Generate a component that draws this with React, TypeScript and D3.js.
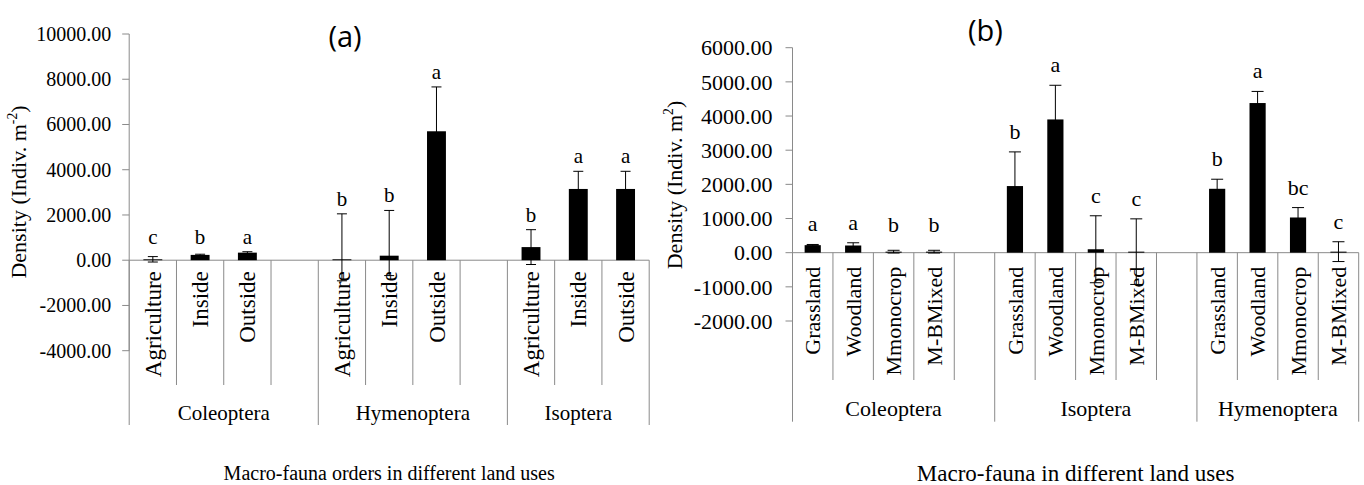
import React from "react";
import * as d3 from "d3";

// ---------- Panel (a) data ----------
const groupsA = ["Coleoptera", "Hymenoptera", "Isoptera"];
const landUsesA = ["Agriculture", "Inside", "Outside"];
const meansA = [
  [40, 235, 335],
  [40, 200, 5700],
  [580, 3150, 3150],
];
const errUpA = [
  [120, 30, 40],
  [2010, 2000, 1960],
  [770, 780, 780],
];
const errDownA = [
  [120, 30, 40],
  [950, 880, 1960],
  [770, 780, 780],
];
const lettersA = [
  ["c", "b", "a"],
  ["b", "b", "a"],
  ["b", "a", "a"],
];
const ticksA = [-4000, -2000, 0, 2000, 4000, 6000, 8000, 10000];

// ---------- Panel (b) data ----------
const groupsB = ["Coleoptera", "Isoptera", "Hymenoptera"];
const landUsesB = ["Grassland", "Woodland", "Mmonocrop", "M-BMixed"];
const meansB = [
  [220, 210, 30, 30],
  [1950, 3900, 100, 30],
  [1870, 4380, 1030, 30],
];
const errB = [
  [20, 80, 40, 40],
  [1000, 1000, 980, 960],
  [280, 340, 290, 290],
];
const lettersB = [
  ["a", "a", "b", "b"],
  ["b", "a", "c", "c"],
  ["b", "a", "bc", "c"],
];
const ticksB = [-2000, -1000, 0, 1000, 2000, 3000, 4000, 5000, 6000];

const SERIF = "'Liberation Serif', 'Times New Roman', serif";
const SANS = "'Open Sans', Lato, 'Liberation Sans', sans-serif";
const GRAY = "#8a8a8a";

const fmt = (v: number) => d3.format(".2f")(v).replace("\u2212", "-");

type PanelProps = {
  groups: string[];
  landUses: string[];
  means: number[][];
  errUp: number[][];
  errDown: number[][];
  letters: string[][];
  ticks: number[];
  yDomain: [number, number];
  yRange: [number, number];
  xRange: [number, number];
  tickFont: number;
  catFont: number;
  groupFont: number;
  letterFont: number;
  xTitleFont: number;
  yTitleFont: number;
  letterGap: number;
  labelGap: number;
  subBottom: number;
  grpBottom: number;
  groupLabelY: number;
  xTitle: string;
  xTitleY: number;
  yTitle: string;
  ySup: string;
  yTitleX: number;
  yTitleY: number;
  title: string;
  titleX: number;
  titleY: number;
  capW: number;
  labelEndGap: number;
};

function Panel(p: PanelProps) {
  const y = d3.scaleLinear().domain(p.yDomain).range(p.yRange);
  const slots: { key: string; gi: number; li: number }[] = [];
  p.groups.forEach((g, gi) => {
    p.landUses.forEach((_, li) => slots.push({ key: `${gi}-${li}`, gi, li }));
    if (gi < p.groups.length - 1) slots.push({ key: `${gi}-blank`, gi, li: -1 });
  });
  const x = d3
    .scaleBand<string>()
    .domain(slots.map((s) => s.key))
    .range(p.xRange)
    .padding(0);
  const bw = x.bandwidth() * 0.4;
  const y0 = y(0);
  const axisX = p.xRange[0];

  const dividers = slots.map((s) => ({
    x: x(s.key) as number,
    major: s.li === 0,
  }));
  dividers.push({ x: p.xRange[1], major: true });

  return (
    <g>
      <text
        x={p.titleX}
        y={p.titleY}
        fontFamily={SANS}
        fontSize={29}
        textAnchor="middle"
        dominantBaseline="central"
        fill="#000"
      >
        {p.title}
      </text>

      <line x1={axisX} x2={axisX} y1={y(p.yDomain[1])} y2={y(p.yDomain[0])} stroke={GRAY} />
      {p.ticks.map((t) => (
        <g key={t}>
          <line x1={axisX - 7} x2={axisX} y1={y(t)} y2={y(t)} stroke={GRAY} />
          <text
            x={axisX - p.labelEndGap}
            y={y(t)}
            dy="0.35em"
            textAnchor="end"
            fontFamily={SERIF}
            fontSize={p.tickFont}
            fill="#000"
          >
            {fmt(t)}
          </text>
        </g>
      ))}

      <text
        transform={`translate(${p.yTitleX},${p.yTitleY}) rotate(-90)`}
        textAnchor="middle"
        dy="0.35em"
        fontFamily={SERIF}
        fontSize={p.yTitleFont}
        fill="#000"
      >
        {p.yTitle}
        <tspan dy={-p.yTitleFont * 0.4} fontSize={p.yTitleFont * 0.62}>
          {p.ySup}
        </tspan>
        <tspan dy={p.yTitleFont * 0.4}>)</tspan>
      </text>

      <line x1={p.xRange[0]} x2={p.xRange[1]} y1={y0} y2={y0} stroke={GRAY} />
      {dividers.map((d, i) => (
        <line
          key={i}
          x1={d.x}
          x2={d.x}
          y1={y0}
          y2={d.major ? p.grpBottom : p.subBottom}
          stroke={GRAY}
        />
      ))}

      {slots
        .filter((s) => s.li >= 0)
        .map((s) => {
          const cx = (x(s.key) as number) + x.bandwidth() / 2;
          return (
            <text
              key={`lab-${s.key}`}
              transform={`translate(${cx},${y0 + p.labelGap}) rotate(-90)`}
              textAnchor="end"
              dy="0.35em"
              fontFamily={SERIF}
              fontSize={p.catFont}
              fill="#000"
            >
              {p.landUses[s.li]}
            </text>
          );
        })}

      {p.groups.map((g, gi) => {
        const gs = slots.filter((s) => s.gi === gi);
        const a = x(gs[0].key) as number;
        const b = (x(gs[gs.length - 1].key) as number) + x.bandwidth();
        return (
          <text
            key={g}
            x={(a + b) / 2}
            y={p.groupLabelY}
            dy="0.35em"
            textAnchor="middle"
            fontFamily={SERIF}
            fontSize={p.groupFont}
            fill="#000"
          >
            {g}
          </text>
        );
      })}

      {slots
        .filter((s) => s.li >= 0)
        .map((s) => {
          const m = p.means[s.gi][s.li];
          const eu = p.errUp[s.gi][s.li];
          const ed = p.errDown[s.gi][s.li];
          const cx = (x(s.key) as number) + x.bandwidth() / 2;
          const top = y(m + eu);
          const bot = y(m - ed);
          const letterBase = Math.min(top, y0 - 8) - p.letterGap;
          return (
            <g key={`bar-${s.key}`}>
              <rect
                x={cx - bw / 2}
                width={bw}
                y={Math.min(y(m), y0)}
                height={Math.abs(y(m) - y0)}
                fill="#000"
              />
              <line x1={cx} x2={cx} y1={top} y2={bot} stroke="#000" />
              <line x1={cx - p.capW / 2} x2={cx + p.capW / 2} y1={top} y2={top} stroke="#000" />
              <line x1={cx - p.capW / 2} x2={cx + p.capW / 2} y1={bot} y2={bot} stroke="#000" />
              <text
                x={cx}
                y={letterBase}
                textAnchor="middle"
                fontFamily={SERIF}
                fontSize={p.letterFont}
                fill="#000"
              >
                {p.letters[s.gi][s.li]}
              </text>
            </g>
          );
        })}

      <text
        x={(p.xRange[0] + p.xRange[1]) / 2}
        y={p.xTitleY}
        dy="0.35em"
        textAnchor="middle"
        fontFamily={SERIF}
        fontSize={p.xTitleFont}
        fill="#000"
      >
        {p.xTitle}
      </text>
    </g>
  );
}

export default function App() {
  return (
    <svg
      width={1364}
      height={485}
      style={{ position: "absolute", left: 0, top: 0, background: "#fff" }}
    >
      <rect width={1364} height={485} fill="#fff" />
      <Panel
        groups={groupsA}
        landUses={landUsesA}
        means={meansA}
        errUp={errUpA}
        errDown={errDownA}
        letters={lettersA}
        ticks={ticksA}
        yDomain={[-4000, 10000]}
        yRange={[350.7, 34]}
        xRange={[129.2, 649.2]}
        tickFont={20}
        catFont={23}
        groupFont={21}
        letterFont={21}
        xTitleFont={20}
        yTitleFont={22}
        letterGap={8}
        labelGap={11}
        subBottom={385}
        grpBottom={425}
        groupLabelY={413}
        xTitle="Macro-fauna orders in different land uses"
        xTitleY={473}
        yTitle="Density (Indiv.  m"
        ySup="-2"
        yTitleX={18}
        yTitleY={192}
        title="(a)"
        titleX={345}
        titleY={35}
        capW={10}
        labelEndGap={18}
      />
      <Panel
        groups={groupsB}
        landUses={landUsesB}
        means={meansB}
        errUp={errB}
        errDown={errB}
        letters={lettersB}
        ticks={ticksB}
        yDomain={[-2000, 6000]}
        yRange={[321, 47.7]}
        xRange={[792.5, 1358.7]}
        tickFont={22}
        catFont={22}
        groupFont={22}
        letterFont={22}
        xTitleFont={23}
        yTitleFont={22}
        letterGap={13}
        labelGap={14}
        subBottom={380}
        grpBottom={421.7}
        groupLabelY={408}
        xTitle="Macro-fauna in different land uses"
        xTitleY={473}
        yTitle="Density (Indiv.  m"
        ySup="2"
        yTitleX={674}
        yTitleY={185}
        title="(b)"
        titleX={985.4}
        titleY={29}
        capW={12}
        labelEndGap={20}
      />
    </svg>
  );
}
